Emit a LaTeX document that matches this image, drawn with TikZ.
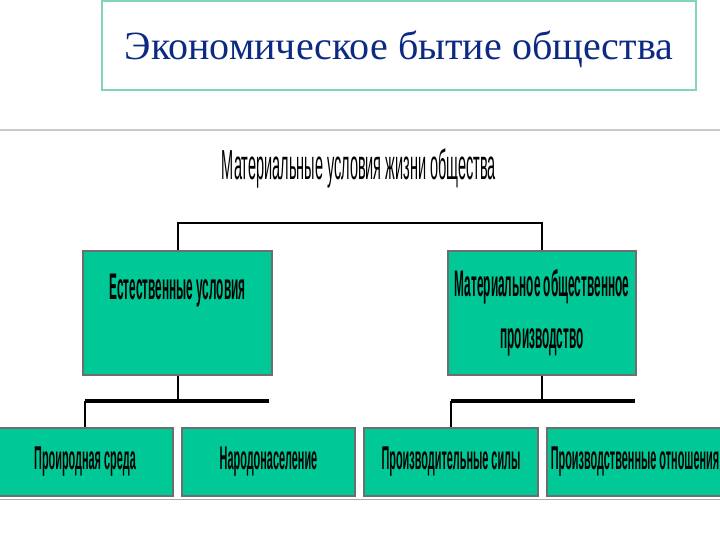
\documentclass[tikz,border=0pt]{standalone}
\usepackage{fontspec}
\usepackage{graphicx}
\setmainfont{Liberation Serif}
\newfontfamily\narrowfont{Liberation Sans}
\definecolor{boxfill}{RGB}{0,201,151}
\definecolor{boxline}{RGB}{110,110,110}
\definecolor{titleline}{RGB}{130,212,188}
\definecolor{titletext}{RGB}{12,42,130}
\definecolor{rulegray}{RGB}{200,200,200}
\newcommand{\nar}[2][0.32]{\scalebox{#1}[1]{#2}}
\begin{document}
\begin{tikzpicture}[x=1pt,y=-1pt,
    box/.style={draw=boxline,line width=2pt,fill=boxfill,inner sep=0pt,align=center,
      font=\narrowfont\bfseries\fontsize{37}{52}\selectfont},
    cell/.style={box,minimum height=68pt,font=\narrowfont\bfseries\fontsize{33}{40}\selectfont},
    tree/.style={line width=2pt},
    bar/.style={line width=4pt}]
    \useasboundingbox (0,0) rectangle (720,540);
    \node[draw=titleline,line width=1.5pt,minimum width=594pt,minimum height=89pt,text depth=0pt,
      text=titletext,font=\fontsize{40}{40}\selectfont](title) at (399,45.5) {Экономическое бытие общества};
    \draw[rulegray,line width=2pt] (0,130.5) -- (720,130.5);
    \draw[rulegray!85!black,line width=1.5pt] (0,499.5) -- (720,499.5);
    \node[anchor=base,font=\narrowfont\fontsize{42}{42}\selectfont](mat) at (359,180) {\nar[0.345]{Материальные условия жизни общества}};
    \node[box,minimum width=189pt,minimum height=124pt](nat) at (177.5,313) {\nar{Естественные условия}\\ \mbox{}};
    \node[box,minimum width=188pt,minimum height=124pt](prod) at (542,313) {\nar{Материальное общественное}\\ \nar{производство}};
    \node[cell,minimum width=176pt](env) at (85,462) {\nar[0.33]{Проиродная среда}};
    \node[cell,minimum width=173pt](pop) at (268.5,462) {\nar[0.33]{Народонаселение}};
    \node[cell,minimum width=174pt](forces) at (451,462) {\nar[0.33]{Производительные силы}};
    \node[cell,minimum width=176pt](rel) at (635,462) {\nar[0.33]{Производственные отношения}};
    \coordinate (lrow) at (0,401);
    \draw[tree] (nat.north) -- ++(0,-27) -| (prod.north);
    \draw[tree] (nat.south) -- (nat.south |- lrow);
    \draw[bar] (env.north |- lrow) -- (pop.north |- lrow);
    \draw[tree] (env.north |- lrow) -- (env.north);
    \draw[tree] (prod.south) -- (prod.south |- lrow);
    \draw[bar] (forces.north |- lrow) -- (rel.north |- lrow);
    \draw[tree] (forces.north |- lrow) -- (forces.north);
\end{tikzpicture}
\end{document}
